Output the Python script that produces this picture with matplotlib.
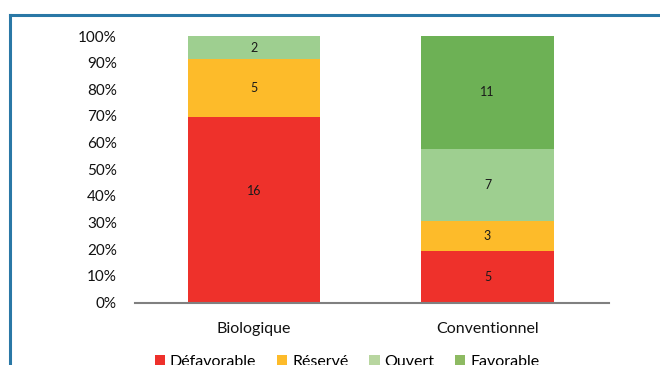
import matplotlib.pyplot as plt
from matplotlib.lines import Line2D
from matplotlib.patches import Patch
import numpy as np

# data
categories = ["Biologique", "Conventionnel"]
series = ["Défavorable", "Réservé", "Ouvert", "Favorable"]
defavorable = [16, 5]
reserve = [5, 3]
ouvert = [2, 7]
favorable = [0, 11]
yticks_labels = ["0%", "10%", "20%", "30%", "40%", "50%", "60%", "70%", "80%", "90%", "100%"]

colors = ["#EE312B", "#FDBB2A", "#9ECF90", "#6DB155"]
legend_colors = ["#EE312B", "#FDBB2A", "#B8D6A0", "#8DBA62"]

# the "16" label sits a bit above the middle of its segment in the original
label_shift = {(0, 0): 7}

plt.rcParams["font.family"] = ["Lato", "DejaVu Sans"]

W, H = 660, 365
fig = plt.figure(figsize=(W / 100, H / 100), dpi=100)
ax = fig.add_axes([135 / W, (H - 302.5) / H, (609 - 135) / W, (302.5 - 36) / H])

counts = np.array([defavorable, reserve, ouvert, favorable], dtype=float)
totals = counts.sum(axis=0)
shares = counts / totals * 100
x = np.arange(len(categories))
bottom = np.zeros(len(categories))

for si, (name, vals, pct, col) in enumerate(zip(series, counts, shares, colors)):
    ax.bar(x, pct, bottom=bottom, width=0.567, color=col, linewidth=0)
    for xi, v, p, b in zip(x, vals, pct, bottom):
        if v > 0:
            ax.text(xi, b + p / 2 + label_shift.get((si, xi), 0), f"{int(v)}",
                    ha="center", va="center", fontsize=9, color="#1a1a1a")
    bottom += pct

ax.set_xlim(-0.51, 1.52)
ax.set_ylim(0, 100)
ax.set_yticks(np.arange(0, 101, 10))
ax.set_yticklabels(yticks_labels)
ax.set_xticks(x)
ax.set_xticklabels(categories)
ax.tick_params(axis="both", length=0, labelsize=11, colors="#111111")
ax.tick_params(axis="y", pad=13)
ax.tick_params(axis="x", pad=14, labelsize=11.5)
for s in ["top", "right", "left"]:
    ax.spines[s].set_visible(False)
ax.spines["bottom"].set_color("#808080")
ax.spines["bottom"].set_linewidth(1.5)

# legend at the bottom, partly cut off like the original
handles = [Patch(facecolor=c, edgecolor="none") for c in legend_colors]
fig.legend(handles, series, loc="center", bbox_to_anchor=(347 / W, 3 / H),
           ncol=4, frameon=False, fontsize=11.5, handlelength=0.65, handleheight=0.65,
           handletextpad=0.3, columnspacing=1.3)

# blue frame (top and left edges visible)
fig.add_artist(Line2D([10.5 / W, 1.0], [(H - 14.5) / H] * 2, color="#2A78A6", lw=2.2))
fig.add_artist(Line2D([10.5 / W] * 2, [0, (H - 14.5) / H], color="#2A78A6", lw=2.2))

fig.savefig("out.png", dpi=100)
